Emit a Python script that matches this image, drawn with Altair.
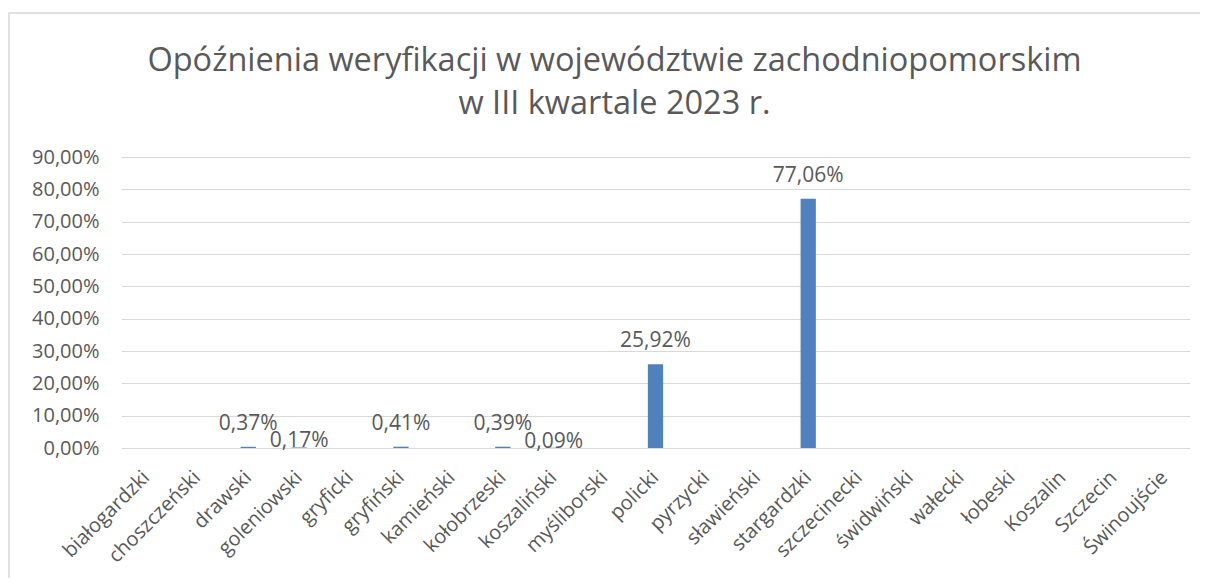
import altair as alt
import pandas as pd

categories = ["białogardzki", "choszczeński", "drawski", "goleniowski", "gryficki",
              "gryfiński", "kamieński", "kołobrzeski", "koszaliński", "myśliborski",
              "policki", "pyrzycki", "sławieński", "stargardzki", "szczecinecki",
              "świdwiński", "wałecki", "łobeski", "Koszalin", "Szczecin", "Świnoujście"]
values = [0.0, 0.0, 0.0037, 0.0017, 0.0, 0.0041, 0.0, 0.0039, 0.0009, 0.0,
          0.2592, 0.0, 0.0, 0.7706, 0.0, 0.0, 0.0, 0.0, 0.0, 0.0, 0.0]
y_ticks = [0.0, 0.1, 0.2, 0.3, 0.4, 0.5, 0.6, 0.7, 0.8, 0.9]
lowered_labels = ["goleniowski", "koszaliński"]

df = pd.DataFrame({"powiat": categories, "value": values})
df["lowered"] = df["powiat"].isin(lowered_labels)

FONT = "Open Sans"
GRAY = "#595959"
label_expr = "replace(format(datum.value, '.2%'), '.', ',')"

x = alt.X("powiat:N", sort=categories, title=None,
          scale=alt.Scale(paddingInner=0.7, paddingOuter=0.35),
          axis=alt.Axis(labelAngle=-45, labelAlign="right", labelBaseline="middle",
                        labelFontSize=20, labelColor=GRAY, labelFont=FONT,
                        labelPadding=26, ticks=False, domain=False, labelOverlap=False))
y = alt.Y("value:Q", title=None,
          scale=alt.Scale(domain=[0, 0.9], nice=False),
          axis=alt.Axis(values=y_ticks, labelExpr=label_expr,
                        labelFontSize=20, labelColor=GRAY, labelFont=FONT, labelPadding=22,
                        labelOverlap=False, ticks=False, domain=False,
                        gridColor="#d9d9d9", gridWidth=1))

base = alt.Chart(df).encode(x=x, y=y)

bars = base.mark_bar(color="#4f81bd")

labels_std = base.transform_filter("datum.value > 0 && !datum.lowered").transform_calculate(
    lab=label_expr).mark_text(fontSize=21, font=FONT, color=GRAY, baseline="middle", dy=-23
).encode(text="lab:N")

labels_low = base.transform_filter("datum.value > 0 && datum.lowered").transform_calculate(
    lab=label_expr).mark_text(fontSize=21, font=FONT, color=GRAY, baseline="middle", dy=-6
).encode(text="lab:N")

frame = alt.Chart(pd.DataFrame({"a": [0]})).mark_rect(
    fill=None, stroke="#d9d9d9", strokeWidth=1.5, clip=False
).encode(x=alt.value(-112), x2=alt.value(1100), y=alt.value(-144), y2=alt.value(460))

chart = alt.layer(frame, bars, labels_std, labels_low).properties(
    width=1069, height=291,
    background="white",
    title=alt.TitleParams(
        ["Opóźnienia weryfikacji w województwie zachodniopomorskim", "w III kwartale 2023 r."],
        fontSize=32.5, font=FONT, fontWeight="normal", color=GRAY, lineHeight=43,
        offset=-108, dx=-41, anchor="middle"),
    autosize=alt.AutoSizeParams(type="none"),
    padding={"left": 113, "top": 149, "right": 10, "bottom": 130},
).configure_view(strokeWidth=0, stroke=None)

chart.save("out.html", embed_options={"renderer": "svg", "actions": False})
